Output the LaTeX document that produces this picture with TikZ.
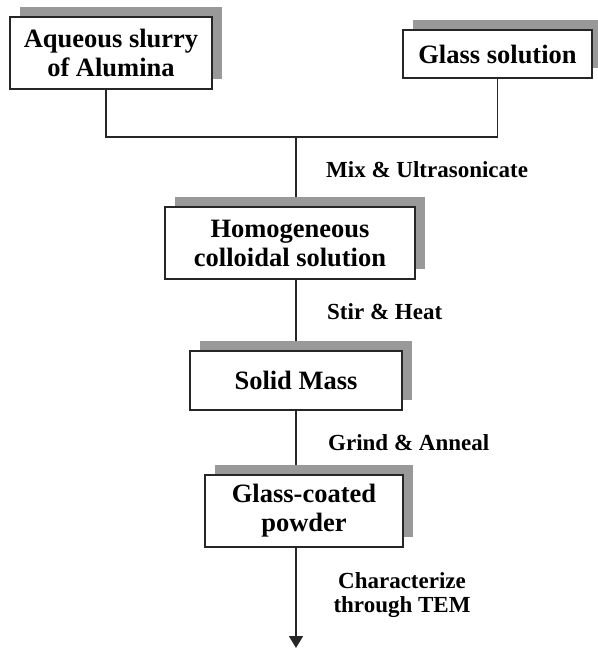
\documentclass[tikz,border=0pt]{standalone}
\usepackage{fontspec}
\setmainfont{Liberation Serif}
\usetikzlibrary{arrows.meta,shadows}
\pgfdeclarelayer{background}
\pgfsetlayers{background,main}
\tikzset{
  stage/.style={draw=black!85, line width=1.7pt, fill=white, inner sep=0pt,
    font=\fontsize{26.5}{29}\selectfont\bfseries, align=center,
    drop shadow={shadow xshift=10pt, shadow yshift=10pt, fill=black!40, opacity=1}},
  note/.style={font=\fontsize{23}{24}\selectfont\bfseries, align=center, inner sep=0pt},
  flow/.style={line width=1.6pt, draw=black!85}
}
\begin{document}
\begin{tikzpicture}[x=1pt,y=-1pt]
  \useasboundingbox (0,0) rectangle (597,650);
  % starting materials
  \node[stage, minimum width=202pt, minimum height=72pt] (alumina) at (111,53) {Aqueous slurry\\of Alumina};
  \node[stage, minimum width=189pt, minimum height=48pt] (glass) at (497.5,54) {Glass solution};
  % process stages
  \node[stage, minimum width=250pt, minimum height=72pt] (homog) at (290,243) {Homogeneous\\colloidal solution};
  \node[stage, minimum width=212pt, minimum height=59pt] (solid) at (296,380.5) {Solid Mass};
  \node[stage, minimum width=198pt, minimum height=72pt] (coated) at (304,511) {Glass-coated\\powder};
  % step labels
  \node[note, anchor=west] (mixlbl) at (326,170) {Mix \& Ultrasonicate};
  \node[note, anchor=west] (stirlbl) at (327,312) {Stir \& Heat};
  \node[note, anchor=west] (grindlbl) at (328,443) {Grind \& Anneal};
  \node[note] (temlbl) at (402,595) {Characterize\\through TEM};
  % connectors
  \coordinate (join) at (296,137);
  \coordinate (out) at (296,648);
  \begin{pgfonlayer}{background}
    \draw[flow] ([xshift=-5pt]alumina.south) |- (join) -| (glass.south);
    \draw[flow] (join) -- (join |- homog.north);
    \draw[flow] (homog.south -| join) -- (solid.north -| join);
    \draw[flow] (solid.south -| join) -- (coated.north -| join);
    \draw[flow, -{Triangle[width=14pt,length=12pt]}] (coated.south -| join) -- (out);
  \end{pgfonlayer}
\end{tikzpicture}
\end{document}
